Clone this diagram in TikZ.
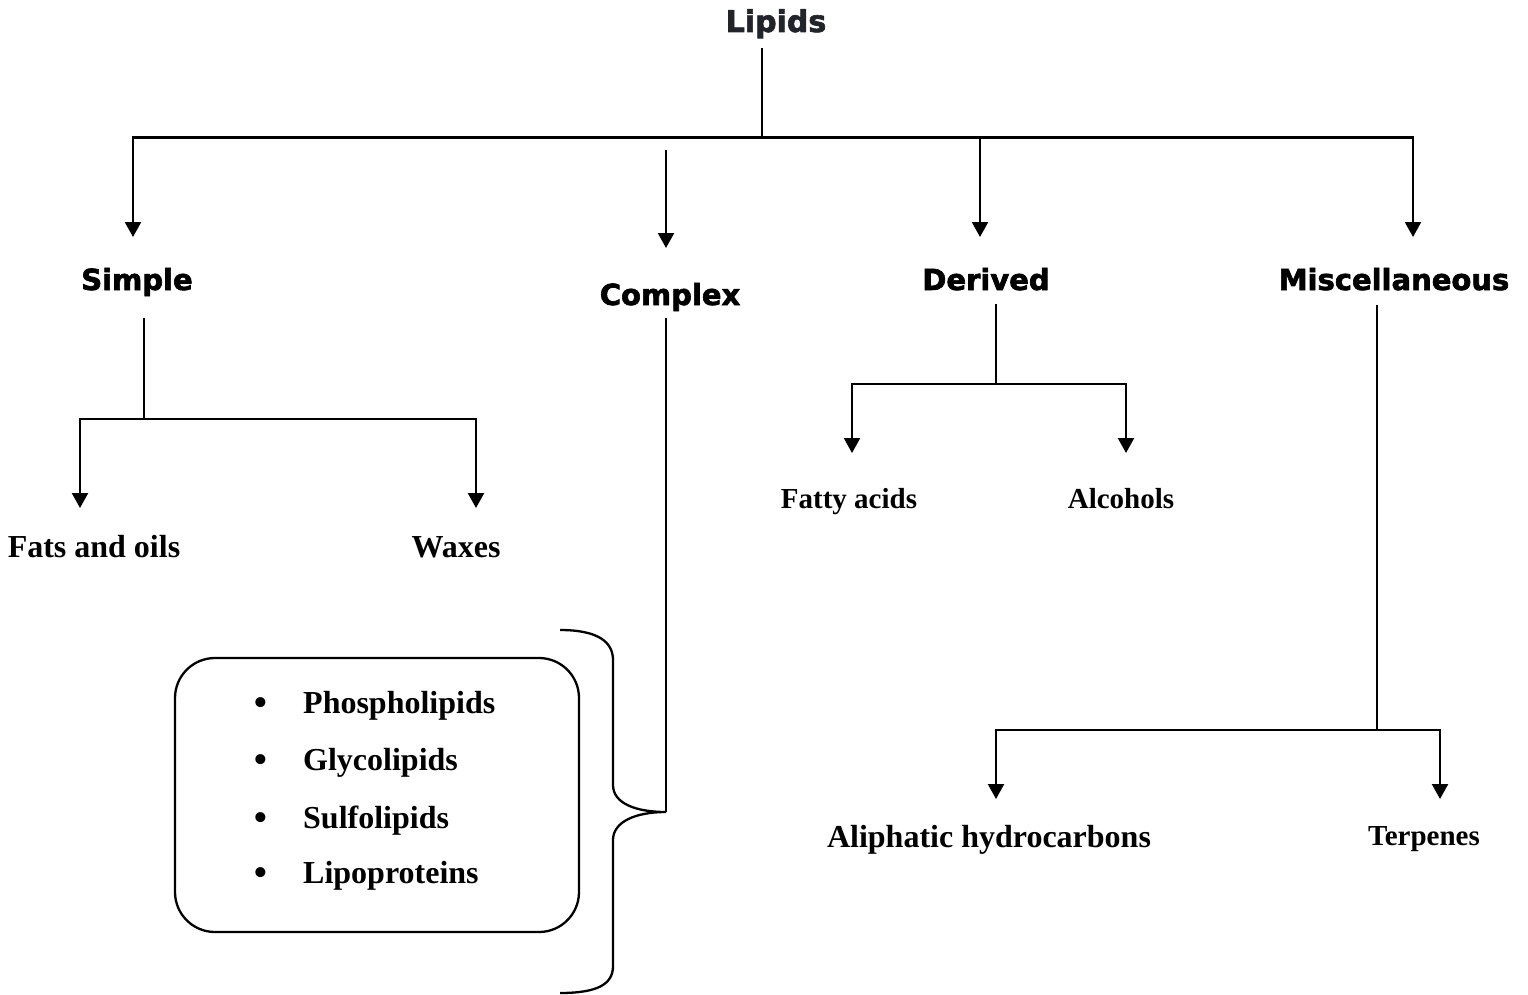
\documentclass[tikz,border=0pt]{standalone}
\usepackage{fontspec}
\setmainfont{Liberation Serif}
\newfontfamily\headfont{DejaVu Sans}[BoldFeatures={FakeBold=2.2}]
\usetikzlibrary{arrows.meta}
\definecolor{titlegray}{RGB}{33,37,41}

\begin{document}
\begin{tikzpicture}[x=1pt,y=-1pt,
  link/.style={line width=2.3pt},
  arr/.style={link,-{Triangle[width=16pt,length=15pt]}},
  head/.style={font=\headfont\bfseries\fontsize{29}{35}\selectfont,anchor=base,inner sep=0pt},
  leaf/.style={font=\bfseries\fontsize{32}{38}\selectfont,anchor=base,inner sep=0pt},
  leafsm/.style={font=\bfseries\fontsize{29}{34}\selectfont,anchor=base,inner sep=0pt},
  item/.style={leaf,anchor=base west},
  bul/.style={font=\fontsize{42}{46}\selectfont,anchor=base,inner sep=0pt}]
\useasboundingbox (0,0) rectangle (1528,995);

% headings
\node[head,text=titlegray,font=\headfont\bfseries\fontsize{30}{36}\selectfont] (lipids) at (776,32) {Lipids};
\node[head] (simple)  at (137,290) {Simple};
\node[head] (complex) at (670,305) {Complex};
\node[head] (derived) at (986,290) {Derived};
\node[head] (misc)    at (1394,290) {Miscellaneous};

% leaves
\node[leaf]   (fats)   at (94,557)  {Fats and oils};
\node[leaf]   (waxes)  at (456,557) {Waxes};
\node[leafsm] (fatty)  at (849,508) {Fatty acids};
\node[leafsm] (alco)   at (1121,508) {Alcohols};
\node[leaf]   (aliph)  at (989,847) {Aliphatic hydrocarbons};
\node[leafsm] (terp)   at (1424,845) {Terpenes};

% junctions and arrow ends
\coordinate (lipStem) at (762,48);
\coordinate (top)     at (762,137.5);
\coordinate (derJ)    at (980,137.5);
\coordinate (simTip)  at (133,237);
\coordinate (derTip)  at (980,237);
\coordinate (misTip)  at (1413,237);
\coordinate (cxStart) at (666,150);
\coordinate (cxTip)   at (666,248);

\coordinate (simStem) at (144,318);
\coordinate (simJ)    at (144,419);
\coordinate (fatsTip) at (80,508);
\coordinate (waxTip)  at (476,508);

\coordinate (derStem) at (996,304);
\coordinate (derJ2)   at (996,384);
\coordinate (fattyTip) at (852,453);
\coordinate (alcoTip) at (1126,453);

\coordinate (misStem) at (1377,305);
\coordinate (misJ)    at (1377,730);
\coordinate (aliTip)  at (996,799);
\coordinate (terpTip) at (1440,799);

\coordinate (cxStem)   at (666,318);
\coordinate (braceTip) at (666,812);

% main level
\draw[link] (lipStem) -- (top);
\draw[arr] (top) -| (simTip);
\draw[arr] (top) -| (misTip);
\draw[arr] (derJ) -- (derTip);
\draw[arr] (cxStart) -- (cxTip);

% simple lipids
\draw[link] (simStem) -- (simJ);
\draw[arr] (simJ) -| (fatsTip);
\draw[arr] (simJ) -| (waxTip);

% derived lipids
\draw[link] (derStem) -- (derJ2);
\draw[arr] (derJ2) -| (fattyTip);
\draw[arr] (derJ2) -| (alcoTip);

% miscellaneous lipids
\draw[link] (misStem) -- (misJ);
\draw[arr] (misJ) -| (aliTip);
\draw[arr] (misJ) -| (terpTip);

% complex lipids
\draw[link] (cxStem) -- (braceTip);
\draw[link] (560,630) .. controls (598,630) and (613,642) .. (613,660)
  -- (613,785) .. controls (613,803) and (635,812) .. (braceTip)
  .. controls (635,812) and (613,822) .. (613,840)
  -- (613,966) .. controls (613,984) and (598,993) .. (560,993);

\node[draw,line width=2.3pt,rounded corners=40pt,minimum width=404pt,minimum height=274pt,inner sep=0pt] (box) at (377,795) {};
\node[bul] (b1) at (261,716.5) {•};
\node[bul] (b2) at (261,773.5) {•};
\node[bul] (b3) at (261,831.5) {•};
\node[bul] (b4) at (261,886.5) {•};
\node[item] (phos) at (303,713) {Phospholipids};
\node[item] (glyc) at (303,770) {Glycolipids};
\node[item] (sulf) at (303,828) {Sulfolipids};
\node[item] (lipo) at (303,883) {Lipoproteins};
\end{tikzpicture}
\end{document}
